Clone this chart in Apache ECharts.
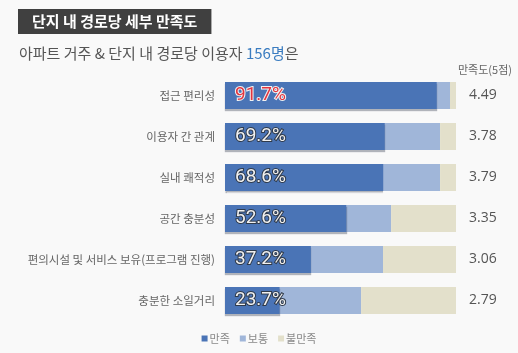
<!DOCTYPE html>
<html>
<head>
<meta charset="utf-8">
<script src="https://cdn.jsdelivr.net/npm/echarts@6/dist/echarts.min.js"></script>
<style>
  html, body { margin: 0; padding: 0; background: #f9f9f9; }
  #chart { width: 518px; height: 353px; }
</style>
</head>
<body>
<div id="chart"></div>
<script>
// 항목
var categories = ['접근 편리성', '이용자 간 관계', '실내 쾌적성', '공간 충분성', '편의시설 및 서비스 보유(프로그램 진행)', '충분한 소일거리'];
// 만족 / 보통 / 불만족 (%)
var satisfied = [91.7, 69.2, 68.6, 52.6, 37.2, 23.7];
var neutral = [5.7, 23.9, 24.5, 19.3, 31.2, 35.2];
var unsatisfied = [2.6, 6.9, 6.9, 28.1, 31.6, 41.1];
// 만족도(5점)
var scores = ['4.49', '3.78', '3.79', '3.35', '3.06', '2.79'];
var legendNames = ['만족', '보통', '불만족'];

var myChart = echarts.init(document.getElementById('chart'));

var pctLabel = {
  show: true,
  position: 'insideLeft',
  distance: 10,
  fontFamily: 'Roboto, sans-serif',
  fontSize: 19,
  color: '#f0f0f0',
  textBorderColor: '#2f3a4a',
  textBorderWidth: 2,
  formatter: function (p) {
    return p.dataIndex === 0 ? '{red|' + p.value + '%}' : p.value + '%';
  },
  rich: {
    red: {
      fontFamily: 'Roboto, sans-serif',
      fontSize: 19,
      color: '#e3343f',
      textBorderColor: '#f2f2f2',
      textBorderWidth: 2
    }
  }
};

myChart.setOption({
  backgroundColor: '#f9f9f9',
  title: [{
    text: '단지 내 경로당 세부 만족도',
    left: 18,
    top: 9,
    backgroundColor: '#404040',
    padding: [5, 14, 5, 14],
    textStyle: {
      color: '#fff',
      fontSize: 15,
      fontWeight: 'bold',
      fontFamily: '"Noto Sans CJK KR", sans-serif'
    }
  }, {
    text: '아파트 거주 & 단지 내 경로당 이용자 {b|156명}은',
    left: 14,
    top: 41,
    textStyle: {
      color: '#555',
      fontSize: 15,
      fontWeight: 'normal',
      fontFamily: '"Noto Sans CJK KR", sans-serif',
      rich: {
        b: { color: '#3a7cc0', fontSize: 15, fontFamily: '"Noto Sans CJK KR", sans-serif' }
      }
    }
  }, {
    text: '만족도(5점)',
    left: 453,
    top: 59,
    textStyle: {
      color: '#666',
      fontSize: 11,
      fontWeight: 'normal',
      fontFamily: '"Noto Sans CJK KR", sans-serif'
    }
  }],
  legend: {
    data: legendNames,
    bottom: 4,
    left: 'center',
    icon: 'rect',
    itemWidth: 6,
    itemHeight: 6,
    itemGap: 10,
    textStyle: { color: '#888', fontSize: 11, fontFamily: '"Noto Sans CJK KR", sans-serif', padding: [0, 0, 0, -3] }
  },
  grid: { left: 225, right: 62, top: 75, bottom: 32 },
  xAxis: {
    type: 'value',
    min: 0,
    max: 100,
    show: false
  },
  yAxis: [{
    type: 'category',
    data: categories,
    inverse: true,
    axisLine: { show: false },
    axisTick: { show: false },
    axisLabel: { color: '#666', fontSize: 11.5, margin: 10, fontFamily: '"Noto Sans CJK KR", sans-serif' }
  }, {
    type: 'category',
    data: scores,
    inverse: true,
    position: 'right',
    axisLine: { show: false },
    axisTick: { show: false },
    axisLabel: { color: '#555', fontSize: 14, margin: 13, fontFamily: '"Open Sans", sans-serif' }
  }],
  series: [{
    name: legendNames[0],
    type: 'bar',
    stack: 'all',
    barWidth: 27,
    data: satisfied,
    itemStyle: {
      color: '#4a74b6',
      shadowColor: 'rgba(40,50,70,0.35)',
      shadowOffsetY: 2,
      shadowBlur: 1
    },
    label: pctLabel,
    z: 3
  }, {
    name: legendNames[1],
    type: 'bar',
    stack: 'all',
    barWidth: 27,
    data: neutral,
    itemStyle: { color: '#a0b6d9' }
  }, {
    name: legendNames[2],
    type: 'bar',
    stack: 'all',
    barWidth: 27,
    data: unsatisfied,
    itemStyle: { color: '#e3e0cb' }
  }]
});
</script>
</body>
</html>
